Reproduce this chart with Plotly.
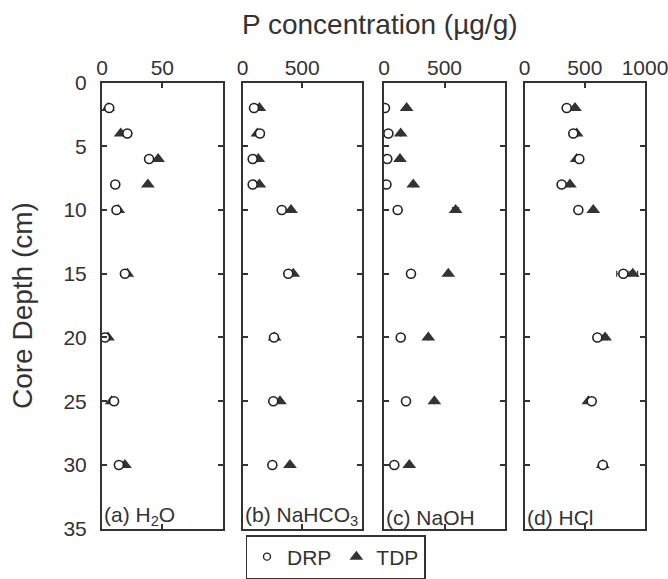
import plotly.graph_objects as go

depth = [2, 4, 6, 8, 10, 15, 20, 25, 30]

h2o_drp = [6, 21, 39, 11, 12, 19, 2.5, 10, 14]
h2o_tdp = [5, 15.5, 46.5, 38, 13.5, 21, 5, 8, 19]

nahco3_drp = [95, 145, 84, 84, 328, 383, 263, 257, 249]
nahco3_tdp = [140, 123, 131, 140, 406, 425, 268, 313, 397]

naoh_drp = [8, 36, 27, 20, 113, 223, 138, 182, 85]
naoh_tdp = [187, 138, 132, 242, 592, 531, 366, 416, 209]
naoh_tdp_err = [0, 0, 0, 0, 25, 0, 0, 0, 0]

hcl_drp = [349, 404, 454, 307, 446, 820, 604, 557, 649]
hcl_tdp = [418, 432, 432, 376, 570, 898, 668, 529, 649]
hcl_drp_err = [0, 0, 0, 0, 0, 55, 0, 0, 0]
hcl_tdp_err = [0, 12, 0, 0, 0, 40, 18, 0, 0]

panel_labels = ["(a) H<sub>2</sub>O", "(b) NaHCO<sub>3</sub>", "(c) NaOH", "(d) HCl"]
x_ranges = [[0, 100], [0, 1000], [0, 1000], [0, 1000]]
x_ticks = [[0, 50], [0, 500], [0, 500], [0, 500, 1000]]
y_ticks = [0, 5, 10, 15, 20, 25, 30, 35]

W, H = 668, 579
domains_px = [(102, 222.7), (242.7, 361.7), (384, 505), (524.7, 645)]
y_top, y_bot = 82.5, 528.7

FONT = "Liberation Sans, Arial, sans-serif"
TXT = "#333333"
LINE = "#333333"

data = [
    (h2o_drp, h2o_tdp, None, None),
    (nahco3_drp, nahco3_tdp, None, None),
    (naoh_drp, naoh_tdp, None, naoh_tdp_err),
    (hcl_drp, hcl_tdp, hcl_drp_err, hcl_tdp_err),
]

fig = go.Figure()
for i, (drp, tdp, drp_err, tdp_err) in enumerate(data):
    sfx = "" if i == 0 else str(i + 1)
    tdp_kw = {}
    if tdp_err is not None:
        tdp_kw["error_x"] = dict(type="data", array=tdp_err, color=LINE, thickness=1.2, width=3)
    drp_kw = {}
    if drp_err is not None:
        drp_kw["error_x"] = dict(type="data", array=drp_err, color=LINE, thickness=1.2, width=3)
    fig.add_trace(go.Scatter(
        x=tdp, y=depth, mode="markers", name="TDP",
        marker=dict(symbol="triangle-up", size=12, color="#333333",
                    line=dict(width=0)),
        xaxis="x" + sfx, yaxis="y" + sfx, showlegend=False, **tdp_kw))
    fig.add_trace(go.Scatter(
        x=drp, y=depth, mode="markers", name="DRP",
        marker=dict(symbol="circle", size=9, color="white",
                    line=dict(width=1.6, color="#222222")),
        xaxis="x" + sfx, yaxis="y" + sfx, showlegend=False, **drp_kw))

# legend entries
fig.add_trace(go.Scatter(x=[None], y=[None], mode="markers", name="DRP",
                         marker=dict(symbol="circle", size=7, color="white",
                                     line=dict(width=1.4, color="#222222"))))
fig.add_trace(go.Scatter(x=[None], y=[None], mode="markers", name="TDP",
                         marker=dict(symbol="triangle-up", size=12, color="#333333")))

layout = dict(
    width=W, height=H,
    margin=dict(l=0, r=0, t=0, b=0, autoexpand=False),
    paper_bgcolor="white", plot_bgcolor="white",
    font=dict(family=FONT, color=TXT, size=21),
    showlegend=True,
    legend=dict(orientation="h", x=335.5 / W, xanchor="center",
                y=0, yanchor="bottom",
                bordercolor=LINE, borderwidth=1.5,
                font=dict(size=21, family=FONT, color=TXT),
                itemwidth=30, tracegroupgap=0),
)

annotations = []
for i in range(4):
    sfx = "" if i == 0 else str(i + 1)
    xa = "xaxis" + sfx
    ya = "yaxis" + sfx
    l, r = domains_px[i]
    layout[xa] = dict(
        domain=[l / W, r / W], range=x_ranges[i], side="top",
        tickvals=x_ticks[i], ticktext=[str(v) for v in x_ticks[i]],
        ticks="inside", ticklen=5, tickwidth=1.5, tickcolor=LINE,
        showline=True, linecolor=LINE, linewidth=2, mirror="ticks",
        showgrid=False, zeroline=False, anchor="y" + sfx,
        automargin=False,
        ticklabeloverflow="allow", ticklabelstandoff=-3,
        tickfont=dict(size=21, family=FONT, color=TXT),
    )
    layout[ya] = dict(
        domain=[1 - y_bot / H, 1 - y_top / H], range=[35, 0],
        tickvals=y_ticks, ticks="inside", ticklen=5, tickwidth=1.5, tickcolor=LINE,
        showline=True, linecolor=LINE, linewidth=2, mirror="ticks",
        showgrid=False, zeroline=False, anchor="x" + sfx,
        automargin=False,
        showticklabels=(i == 0), ticklabelstandoff=9,
        ticklabeloverflow="allow",
        tickfont=dict(size=21, family=FONT, color=TXT),
    )
    annotations.append(dict(
        text=panel_labels[i], xref="x" + sfx + " domain", yref="y" + sfx + " domain",
        x=0.0, y=0.0, xanchor="left", yanchor="bottom", xshift=1, yshift=-1,
        borderpad=0,
        showarrow=False, font=dict(size=21, family=FONT, color=TXT)))

annotations.append(dict(
    text="P concentration (µg/g)", xref="paper", yref="paper",
    x=380 / W, y=1 - 24 / H, xanchor="center", yanchor="middle",
    showarrow=False, font=dict(size=28, family=FONT, color=TXT)))
annotations.append(dict(
    text="Core Depth (cm)", xref="paper", yref="paper",
    x=22 / W, y=1 - 306 / H, xanchor="center", yanchor="middle", textangle=-90,
    showarrow=False, font=dict(size=28, family=FONT, color=TXT)))

layout["annotations"] = annotations
fig.update_layout(**layout)
fig.write_html("out.html")
